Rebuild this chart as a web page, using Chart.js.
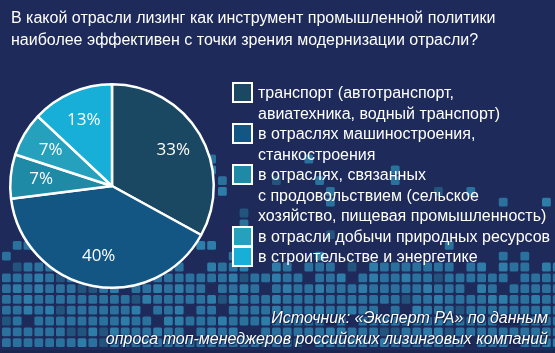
<!DOCTYPE html>
<html>
<head>
<meta charset="utf-8">
<script src="https://cdn.jsdelivr.net/npm/chart.js@4/dist/chart.umd.min.js"></script>
<style>
  html, body { margin: 0; padding: 0; }
  body { width: 555px; height: 353px; background: #1d2a5a; position: relative; overflow: hidden;
         font-family: "Liberation Sans", Arial, sans-serif; color: #fff; }
  #wrap { position: absolute; left: 0; top: 0; width: 555px; height: 353px; }
  #title { position: absolute; left: 11px; top: 7px; font-size: 16px; line-height: 22px; }
  #legend { position: absolute; left: 258px; top: 83px; font-size: 16px; line-height: 20.5px; }
  .item { position: relative; white-space: pre; }
  .box { position: absolute; left: -26px; top: -1px; width: 17px; height: 17px;
         border: 2.5px solid #fff; }
  #source { position: absolute; right: 7px; top: 307px; font-size: 16px; line-height: 21px;
            font-style: italic; text-align: right;
            text-shadow: 0 0 2px #12244a, 1px 1px 1px #12244a; }
</style>
</head>
<body>
<div id="wrap"><canvas id="pie" width="555" height="353"></canvas></div>
<div id="title">В какой отрасли лизинг как инструмент промышленной политики<br>наиболее эффективен с точки зрения модернизации отрасли?</div>
<div id="legend"></div>
<div id="source">Источник: «Эксперт РА» по данным<br>опроса топ-менеджеров российских лизинговых компаний</div>
<script>
// --- данные ---
const sectors = [
    'транспорт (автотранспорт,\nавиатехника, водный транспорт)',
    'в отраслях машиностроения,\nстанкостроения',
    'в отраслях, связанных\nс продовольствием (сельское\nхозяйство, пищевая промышленность)',
    'в отрасли добычи природных ресурсов',
    'в строительстве и энергетике'
];
const shares = [33, 40, 7, 7, 13];
const sliceColors = ['#1a4762', '#135683', '#1e8aa6', '#25a0bd', '#17afd8'];

// --- легенда ---
const legendEl = document.getElementById('legend');
sectors.forEach((text, i) => {
    const item = document.createElement('div');
    item.className = 'item';
    item.textContent = text;
    const box = document.createElement('span');
    box.className = 'box';
    box.style.background = sliceColors[i];
    item.appendChild(box);
    legendEl.appendChild(item);
});

// фон из квадратиков (декор), детерминированный
function hash(a, b) {
    let h = (a * 374761393 + b * 668265263) | 0;
    h = (h ^ (h >>> 13)) * 1274126177 | 0;
    return ((h ^ (h >>> 16)) >>> 0) / 4294967295;
}
const pixelBg = {
    id: 'pixelBg',
    beforeDraw(chart) {
        const ctx = chart.ctx;
        ctx.save();
        ctx.fillStyle = '#1d2a5a';
        ctx.fillRect(0, 0, chart.width, chart.height);
        const pitch = 10.8, size = 8.8;
        for (let r = 0; r < 18; r++) {
            const y = 349 - (r + 1) * pitch;
            let dens;
            if (y > 270) dens = 0.93;
            else if (y > 260) dens = 0.7;
            else if (y > 250) dens = 0.4;
            else if (y > 238) dens = 0.25;
            else dens = 0.13;
            for (let c = 0; c < 52; c++) {
                const x = 2 + c * pitch;
                let d = dens;
                if (y < 262 && x > 250) d *= 0.35;
                if (hash(c + 3, r + 11) > d) continue;
                const shade = hash(c * 7 + 1, r * 5 + 2);
                ctx.fillStyle = shade < 0.1 ? '#22547e' : (shade < 0.3 ? '#2e7ca8' : '#2a719e');
                ctx.beginPath();
                ctx.roundRect(x, y, size, size, 1.5);
                ctx.fill();
            }
        }
        ctx.fillStyle = '#1a2550';
        ctx.fillRect(0, 350, chart.width, 3);
        ctx.restore();
    }
};

// подписи процентов на секторах
const sliceLabels = {
    id: 'sliceLabels',
    afterDatasetsDraw(chart) {
        const ctx = chart.ctx;
        const meta = chart.getDatasetMeta(0);
        ctx.save();
        ctx.fillStyle = '#ffffff';
        ctx.font = '17px "Open Sans", Arial, sans-serif';
        ctx.textAlign = 'center';
        ctx.textBaseline = 'middle';
        meta.data.forEach((arc, i) => {
            const p = arc.getProps(['x', 'y', 'startAngle', 'endAngle', 'outerRadius'], true);
            const mid = (p.startAngle + p.endAngle) / 2;
            const r = p.outerRadius * 0.7;
            ctx.fillText(shares[i] + '%', p.x + Math.cos(mid) * r, p.y + Math.sin(mid) * r);
        });
        ctx.restore();
    }
};

new Chart(document.getElementById('pie'), {
    type: 'pie',
    data: {
        labels: sectors,
        datasets: [{
            data: shares,
            backgroundColor: sliceColors,
            borderColor: '#ffffff',
            borderWidth: 2.5,
            offset: 0,
            hoverOffset: 0
        }]
    },
    options: {
        responsive: false,
        animation: false,
        events: [],
        layout: { padding: { left: 9, right: 340, top: 80, bottom: 61 } },
        plugins: {
            legend: { display: false },
            tooltip: { enabled: false }
        }
    },
    plugins: [pixelBg, sliceLabels]
});
</script>
</body>
</html>
